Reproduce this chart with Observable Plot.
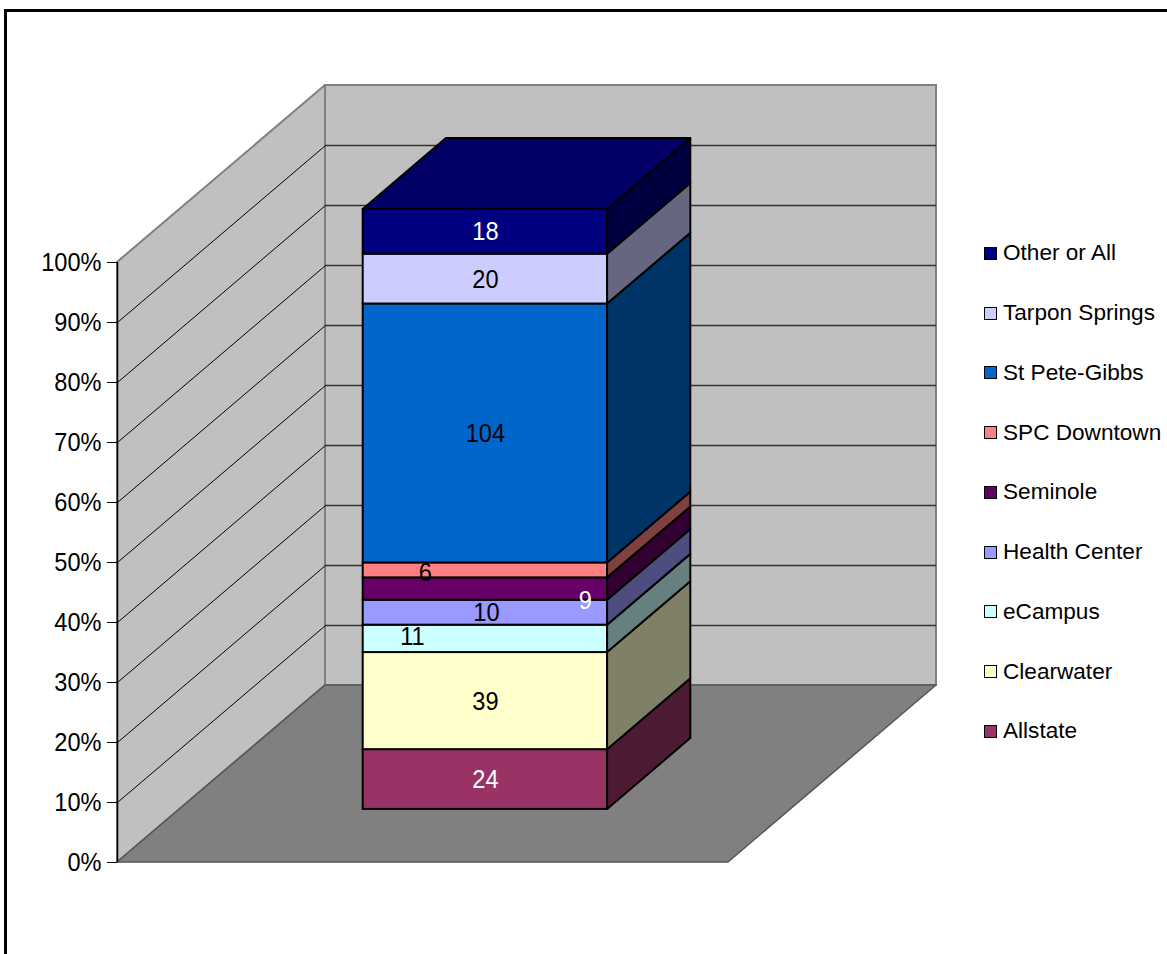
<!DOCTYPE html>
<html>
<head>
<meta charset="utf-8">
<script src="https://cdn.jsdelivr.net/npm/d3@7"></script>
<script src="https://cdn.jsdelivr.net/npm/@observablehq/plot@0.6"></script>
<style>
  body { margin: 0; background: #fff; overflow: hidden; }
  #wrap { position: relative; width: 1167px; height: 954px; overflow: hidden; font-family: "Liberation Sans", Arial, sans-serif; }
  #frame { position: absolute; left: 4px; top: 9px; width: 1300px; height: 1100px; border: 3px solid #000; box-sizing: border-box; }
  #chart { position: absolute; left: 0; top: 0; }
  #legend { position: absolute; left: 984px; top: 223.5px; }
  .item { display: flex; align-items: center; height: 59.75px; font-size: 22.6px; color: #000; white-space: nowrap; }
  .sw { width: 11px; height: 11px; border: 1px solid #000; margin-right: 6px; }
</style>
</head>
<body>
<div id="wrap">
  <div id="frame"></div>
  <div id="chart"></div>
  <div id="legend"></div>
</div>
<script>
// ---- data (stack order, bottom to top) ----
const campuses = ["Allstate", "Clearwater", "eCampus", "Health Center", "Seminole", "SPC Downtown", "St Pete-Gibbs", "Tarpon Springs", "Other or All"];
const counts = [24, 39, 11, 10, 9, 6, 104, 20, 18];
const frontColors = ["#993366", "#FFFFCC", "#CCFFFF", "#9999FF", "#660066", "#FF8080", "#0066CC", "#CCCCFF", "#000080"];
const sideColors = ["#4D1A33", "#808066", "#668080", "#4D4D80", "#330033", "#804040", "#003366", "#666680", "#000040"];
const labelColors = ["#fff", "#000", "#000", "#000", "#fff", "#000", "#000", "#000", "#fff"];
const yTicks = [0, 10, 20, 30, 40, 50, 60, 70, 80, 90, 100];
const gridTicks = [10, 20, 30, 40, 50, 60, 70, 80, 90];

// ---- 3D projection (oblique): depth z in [0,1] shifts x and y ----
const DX = 208 / 611;   // x-units per unit depth
const DY = 177 / 6;     // percent-units per unit depth
const Z0 = 0.3, Z1 = 0.7;   // bar depth span (gap depth 150%)
const X0 = 0.3, X1 = 0.7;   // bar width span (gap width 150%)

const total = d3.sum(counts);
let acc = 0;
const segs = campuses.map((name, i) => {
  const y1 = acc / total * 100;
  acc += counts[i];
  return {name, i, count: counts[i], y1, y2: acc / total * 100};
});

const sidePts = segs.flatMap(d => [Z0, Z1].map(z => ({
  name: d.name, i: d.i, x: X1 + z * DX, lo: d.y1 + z * DY, hi: d.y2 + z * DY
})));
const topPts = [Z0, Z1].map(z => ({y: 100 + z * DY, x1: X0 + z * DX, x2: X1 + z * DX}));
const leftWall = [0, 1].map(z => ({x: z * DX, lo: z * DY, hi: 100 + z * DY}));
const floor = [0, 1].map(z => ({y: z * DY, x1: z * DX, x2: 1 + z * DX}));

const labelX = d => (X0 + X1) / 2 + Z0 * DX;
const labelY = d => (d.y1 + d.y2) / 2 + Z0 * DY;
const lab = (names, dx, dy) => Plot.text(segs.filter(d => names.includes(d.name)), {
  x: labelX, y: labelY, text: d => String(d.count), fill: d => labelColors[d.i],
  fontSize: 26.5, dx, dy
});

const chart = Plot.plot({
  width: 1167,
  height: 954,
  marginLeft: 117,
  marginRight: 439,
  marginTop: 262,
  marginBottom: 92,
  x: {domain: [0, 1], axis: null},
  y: {domain: [0, 100]},
  style: {fontFamily: '"Liberation Sans", Arial, sans-serif', fontSize: "26.5px", background: "transparent", overflow: "visible"},
  marks: [
    // back wall
    Plot.rect([0], {x1: () => DX, x2: () => 1 + DX, y1: () => DY, y2: () => 100 + DY, fill: "#C0C0C0", stroke: "#808080", strokeWidth: 2}),
    // left wall
    Plot.areaY(leftWall, {x: "x", y1: "lo", y2: "hi", fill: "#C0C0C0", stroke: "#808080", strokeWidth: 2}),
    // floor
    Plot.areaX(floor, {y: "y", x1: "x1", x2: "x2", fill: "#808080", stroke: "#555", strokeWidth: 1.5}),
    // gridlines
    Plot.ruleY(gridTicks, {y: d => d + DY, x1: () => DX, x2: () => 1 + DX, stroke: "#333", strokeWidth: 1.5}),
    Plot.link(gridTicks, {x1: () => 0, y1: d => d, x2: () => DX, y2: d => d + DY, stroke: "#000", strokeWidth: 1}),
    // axis
    Plot.ruleX([0], {y1: 0, y2: 100, stroke: "#000", strokeWidth: 1.5}),
    Plot.axisY(yTicks, {anchor: "left", tickSize: 10, tickPadding: 6, tickFormat: d => d + "%", fontSize: 26.5, stroke: "#000", label: null}),
    // bar: front faces
    Plot.rect(segs, {
      x1: () => X0 + Z0 * DX, x2: () => X1 + Z0 * DX,
      y1: d => d.y1 + Z0 * DY, y2: d => d.y2 + Z0 * DY,
      fill: d => frontColors[d.i], stroke: "#000", strokeWidth: 2
    }),
    // bar: side faces
    Plot.areaY(sidePts, {x: "x", y1: "lo", y2: "hi", z: "name", fill: d => sideColors[d.i], stroke: "#000", strokeWidth: 2}),
    // bar: top face
    Plot.areaX(topPts, {y: "y", x1: "x1", x2: "x2", fill: "#000066", stroke: "#000", strokeWidth: 2}),
    // data labels
    lab(["Allstate", "Clearwater", "St Pete-Gibbs", "Tarpon Springs", "Other or All"], 0, 0),
    lab(["eCampus"], -73, -2),
    lab(["Health Center"], 1, 0),
    lab(["Seminole"], 100, 11),
    lab(["SPC Downtown"], -60, 2)
  ]
});

// condensed look of the original chart font: narrow each text around its anchor
d3.select(chart).selectAll("text").each(function() {
  const xa = this.getAttribute("x");
  let pre = "";
  if (xa !== null && !isNaN(+xa) && +xa !== 0) {
    pre = ` translate(${+xa},0)`;
    this.removeAttribute("x");
  }
  const tr = this.getAttribute("transform") || "";
  this.setAttribute("transform", `${tr}${pre} scale(0.89,1)`);
});
document.getElementById("chart").appendChild(chart);

// legend (top to bottom = reverse stack order)
const legend = d3.select("#legend");
campuses.map((name, i) => ({name, i})).reverse().forEach(d => {
  const item = legend.append("div").attr("class", "item");
  item.append("div").attr("class", "sw").style("background", frontColors[d.i]);
  item.append("span").text(d.name);
});
</script>
</body>
</html>
